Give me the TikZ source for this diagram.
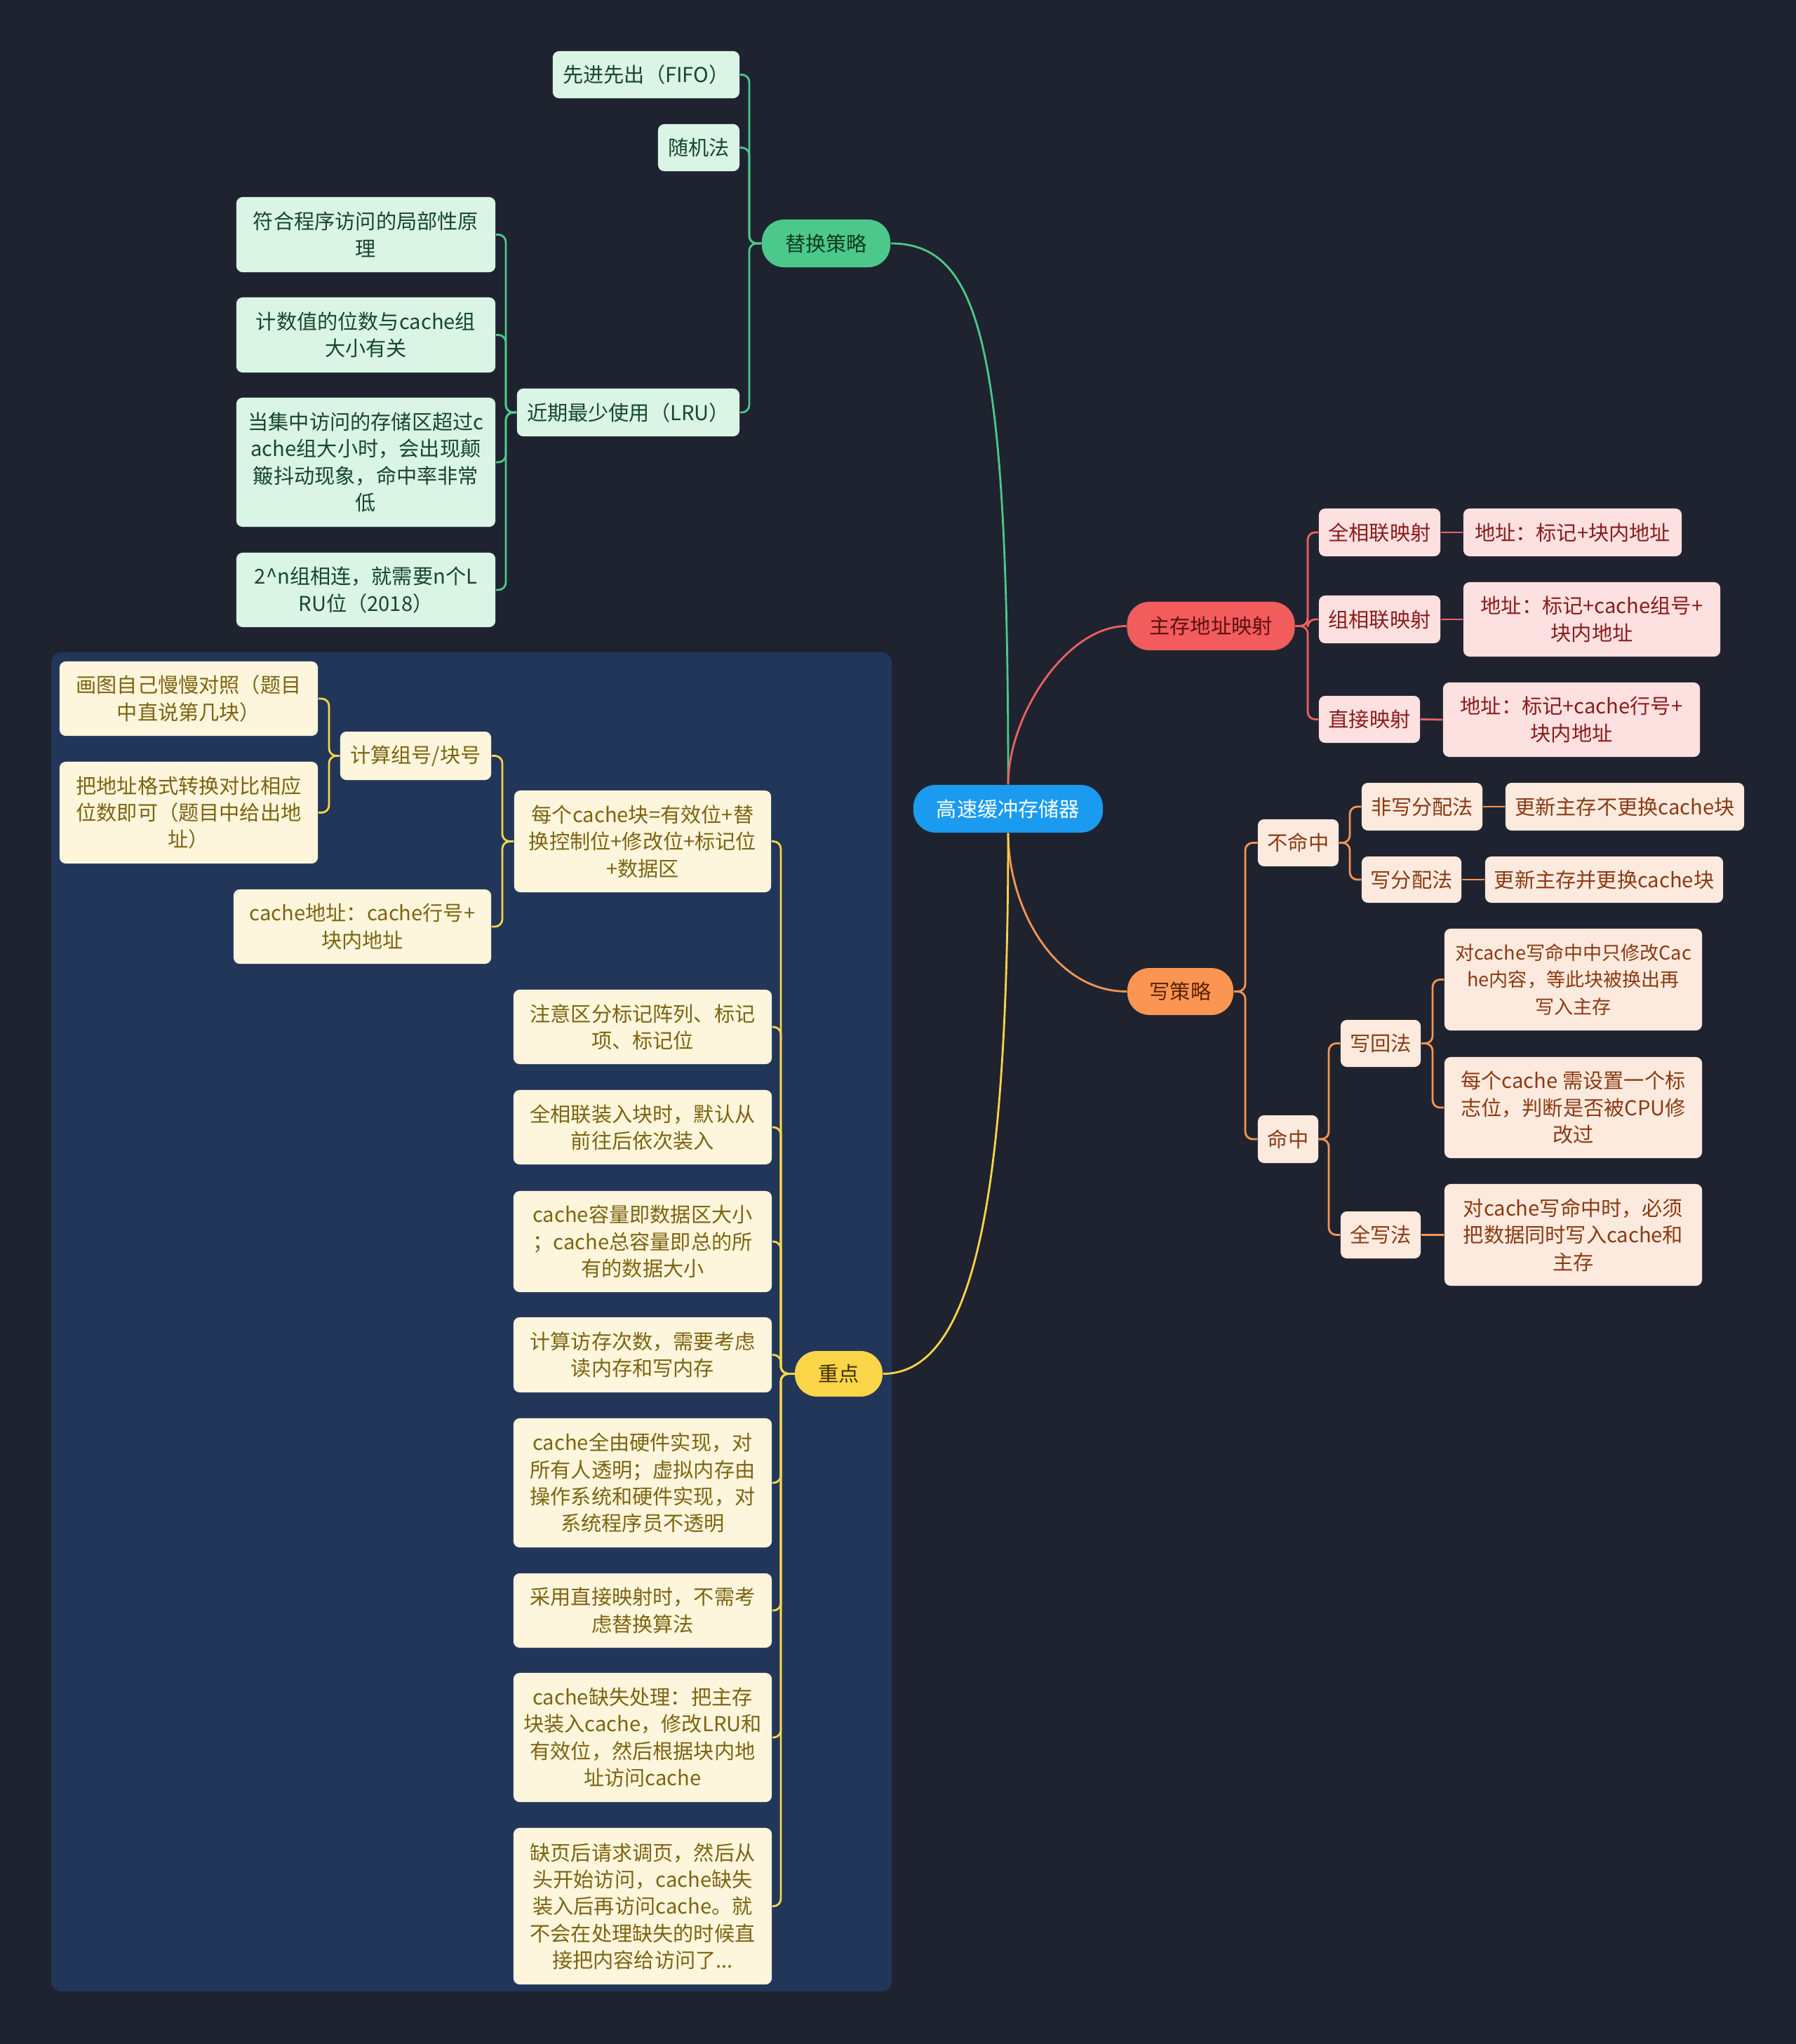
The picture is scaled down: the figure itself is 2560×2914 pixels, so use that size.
\documentclass[tikz,border=0pt]{standalone}
\usepackage{fontspec}
\setmainfont{Noto Sans CJK SC}
\definecolor{bgc}{HTML}{1F2330}
\definecolor{regc}{HTML}{22365A}
\definecolor{rootc}{HTML}{1A9BF0}
\definecolor{gpill}{HTML}{4CC98A}
\definecolor{gptext}{HTML}{0D3B22}
\definecolor{gfill}{HTML}{DAF4E5}
\definecolor{gtext}{HTML}{17472D}
\definecolor{rpill}{HTML}{F25C5C}
\definecolor{rptext}{HTML}{5B0F0F}
\definecolor{rfill}{HTML}{FDE0E0}
\definecolor{rtext}{HTML}{8A1C1C}
\definecolor{rline}{HTML}{EC6262}
\definecolor{opill}{HTML}{FB9552}
\definecolor{optext}{HTML}{5A2405}
\definecolor{ofill}{HTML}{FDEADE}
\definecolor{otext}{HTML}{8B3A12}
\definecolor{ypill}{HTML}{FBD548}
\definecolor{yptext}{HTML}{3D3000}
\definecolor{yfill}{HTML}{FDF6DC}
\definecolor{ytext}{HTML}{7D6412}
\newcommand{\fz}{\fontsize{8.3pt}{10.9pt}\selectfont}
\newcommand{\fzs}{\fontsize{7.7pt}{10.9pt}\selectfont}
\tikzset{
  sz/.style 2 args={minimum width=#1cm, minimum height=#2cm},
  box/.style={rounded corners=2.5pt, inner sep=0pt, align=center, font=\fz},
  pill/.style={rounded corners=9pt, inner sep=0pt, align=center, font=\fz},
  gleaf/.style={box, fill=gfill, text=gtext},
  rleaf/.style={box, fill=rfill, text=rtext},
  oleaf/.style={box, fill=ofill, text=otext},
  yleaf/.style={box, fill=yfill, text=ytext},
  gline/.style={draw=gpill, line width=0.8pt, rounded corners=3pt},
  rline/.style={draw=rline, line width=0.8pt, rounded corners=3pt},
  oline/.style={draw=opill, line width=0.8pt, rounded corners=3pt},
  yline/.style={draw=ypill, line width=0.8pt, rounded corners=3pt},
}
\begin{document}
\begin{tikzpicture}[x=0.01cm,y=-0.01cm]
\fill[bgc] (0,0) rectangle (2560,2914);
\useasboundingbox (0,0) rectangle (2560,2914);
\fill[regc, rounded corners=4pt] (73,930) rectangle (1271,2839);

% root
\node[pill, fill=rootc, text=white, sz={2.70}{0.68}] (root) at (1437,1153) {高速缓冲存储器};

% green branch
\node[pill, fill=gpill, text=gptext, sz={1.83}{0.68}] (tihuan) at (1177.5,347) {替换策略};
\node[gleaf, sz={2.66}{0.67}] (fifo) at (921,106.5) {先进先出（FIFO）};
\node[gleaf, sz={1.16}{0.67}] (suiji) at (996,210.5) {随机法};
\node[gleaf, sz={3.17}{0.68}] (lru) at (895.5,588) {近期最少使用（LRU）};
\node[gleaf, sz={3.69}{1.07}] (fuhe) at (521.5,334.5) {符合程序访问的局部性原\\理};
\node[gleaf, sz={3.69}{1.07}] (jishu) at (521.5,477.5) {计数值的位数与cache组\\大小有关};
\node[gleaf, sz={3.69}{1.84}] (dangji) at (521.5,659) {当集中访问的存储区超过c\\ache组大小时，会出现颠\\簸抖动现象，命中率非常\\低};
\node[gleaf, sz={3.69}{1.06}] (twon) at (521.5,841) {2\textasciicircum n组相连，就需要n个L\\RU位（2018）};

% red branch
\node[pill, fill=rpill, text=rptext, sz={2.39}{0.69}] (zhucun) at (1726,892.5) {主存地址映射};
\node[rleaf, sz={1.73}{0.68}] (quan) at (1966.5,759) {全相联映射};
\node[rleaf, sz={3.11}{0.68}] (quanaddr) at (2241.5,759) {地址：标记+块内地址};
\node[rleaf, sz={1.73}{0.68}] (zu) at (1966.5,883) {组相联映射};
\node[rleaf, sz={3.66}{1.06}] (zuaddr) at (2269,883) {地址：标记+cache组号+\\块内地址};
\node[rleaf, sz={1.44}{0.67}] (zhi) at (1952,1025.5) {直接映射};
\node[rleaf, sz={3.66}{1.06}] (zhiaddr) at (2240,1026) {地址：标记+cache行号+\\块内地址};

% orange branch
\node[pill, fill=opill, text=optext, sz={1.51}{0.67}] (xie) at (1682.5,1413.5) {写策略};
\node[oleaf, sz={1.15}{0.67}] (buming) at (1850.5,1201.5) {不命中};
\node[oleaf, sz={1.72}{0.68}] (feixie) at (2027,1150) {非写分配法};
\node[oleaf, sz={3.40}{0.68}] (geng1) at (2316,1150) {更新主存不更换cache块};
\node[oleaf, sz={1.42}{0.66}] (xiefen) at (2012,1254) {写分配法};
\node[oleaf, sz={3.39}{0.66}] (geng2) at (2286.5,1254) {更新主存并更换cache块};
\node[oleaf, sz={0.86}{0.68}] (mingz) at (1836,1624) {命中};
\node[oleaf, sz={1.14}{0.67}] (xiehui) at (1968,1487.5) {写回法};
\node[oleaf, sz={3.67}{1.45}, font=\fzs] (dui1) at (2242.5,1396.5) {对cache写命中中只修改Cac\\he内容，等此块被换出再\\写入主存};
\node[oleaf, sz={3.67}{1.44}] (mei) at (2242.5,1579) {每个cache 需设置一个标\\志位，判断是否被CPU修\\改过};
\node[oleaf, sz={1.14}{0.67}] (quanxie) at (1968,1760.5) {全写法};
\node[oleaf, sz={3.67}{1.45}] (dui2) at (2242.5,1760.5) {对cache写命中时，必须\\把数据同时写入cache和\\主存};

% yellow branch
\node[pill, fill=ypill, text=yptext, sz={1.25}{0.65}] (zd) at (1195.5,1958.5) {重点};
\node[yleaf, sz={3.68}{1.06}] (huatu) at (269,996) {画图自己慢慢对照（题目\\中直说第几块）};
\node[yleaf, sz={3.68}{1.45}] (badizhi) at (269,1158.5) {把地址格式转换对比相应\\位数即可（题目中给出地\\址）};
\node[yleaf, sz={2.15}{0.69}] (jisuan) at (592.5,1077.5) {计算组号/块号};
\node[yleaf, sz={3.67}{1.06}] (cacheaddr) at (516.5,1321) {cache地址：cache行号+\\块内地址};
\node[yleaf, sz={3.66}{1.45}] (meige) at (916,1199.5) {每个cache块=有效位+替\\换控制位+修改位+标记位\\+数据区};
\node[yleaf, sz={3.68}{1.06}] (zhuyi) at (916,1464) {注意区分标记阵列、标记\\项、标记位};
\node[yleaf, sz={3.68}{1.06}] (quanxl) at (916,1607) {全相联装入块时，默认从\\前往后依次装入};
\node[yleaf, sz={3.68}{1.44}] (rongliang) at (916,1770) {cache容量即数据区大小\\；cache总容量即总的所\\有的数据大小};
\node[yleaf, sz={3.68}{1.07}] (fangcun) at (916,1931.5) {计算访存次数，需要考虑\\读内存和写内存};
\node[yleaf, sz={3.68}{1.84}] (yingjian) at (916,2114) {cache全由硬件实现，对\\所有人透明；虚拟内存由\\操作系统和硬件实现，对\\系统程序员不透明};
\node[yleaf, sz={3.68}{1.06}] (caiyong) at (916,2296) {采用直接映射时，不需考\\虑替换算法};
\node[yleaf, sz={3.68}{1.84}] (queshi) at (916,2477) {cache缺失处理：把主存\\块装入cache，修改LRU和\\有效位，然后根据块内地\\址访问cache};
\node[yleaf, sz={3.68}{2.23}] (queye) at (916,2717.5) {缺页后请求调页，然后从\\头开始访问，cache缺失\\装入后再访问cache。就\\不会在处理缺失的时候直\\接把内容给访问了...};

% root curves
\draw[draw=gpill, line width=0.8pt] (root.north) .. controls (1437,500) and (1400,347) .. (tihuan.east);
\draw[draw=rline, line width=0.8pt] (root.north) .. controls (1437,1020) and (1520,892.5) .. (zhucun.west);
\draw[draw=opill, line width=0.8pt] (root.south) .. controls (1437,1290) and (1500,1413.5) .. (xie.west);
\draw[draw=ypill, line width=0.8pt] (root.south) .. controls (1437,1700) and (1390,1958.5) .. (zd.east);

% green connectors
\foreach \c in {fifo,suiji,lru} \draw[gline] (tihuan.west) -- (1068,347) |- (\c.east);
\foreach \c in {fuhe,jishu,dangji,twon} \draw[gline] (lru.west) -- (721,588) |- (\c.east);

% red connectors
\foreach \c in {quan,zu,zhi} \draw[rline] (zhucun.east) -- (1864,892.5) |- (\c.west);
\draw[rline] (quan.east) -- (quanaddr.west);
\draw[rline] (zu.east) -- (zuaddr.west);
\draw[rline] (zhi.east) -- (zhiaddr.west);

% orange connectors
\foreach \c in {buming,mingz} \draw[oline] (xie.east) -- (1775,1413.5) |- (\c.west);
\foreach \c in {feixie,xiefen} \draw[oline] (buming.east) -- (1924,1201.5) |- (\c.west);
\draw[oline] (feixie.east) -- (geng1.west);
\draw[oline] (xiefen.east) -- (geng2.west);
\foreach \c in {xiehui,quanxie} \draw[oline] (mingz.east) -- (1894,1624) |- (\c.west);
\foreach \c in {dui1,mei} \draw[oline] (xiehui.east) -- (2042,1487.5) |- (\c.west);
\draw[oline] (quanxie.east) -- (dui2.west);

% yellow connectors
\foreach \c in {meige,zhuyi,quanxl,rongliang,fangcun,yingjian,caiyong,queshi,queye}
  \draw[yline] (zd.west) -- (1113,1958.5) |- (\c.east);
\foreach \c in {jisuan,cacheaddr} \draw[yline] (meige.west) -- (716,1199.5) |- (\c.east);
\foreach \c in {huatu,badizhi} \draw[yline] (jisuan.west) -- (469,1077.5) |- (\c.east);
\end{tikzpicture}
\end{document}
